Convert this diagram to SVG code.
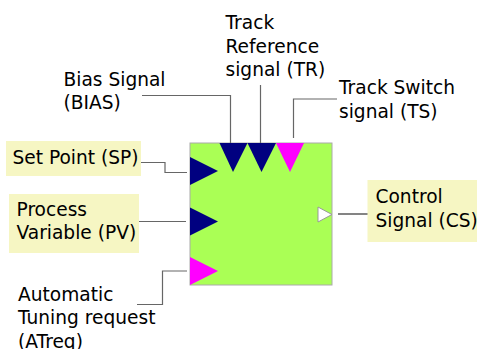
<svg xmlns="http://www.w3.org/2000/svg" width="477" height="349" viewBox="0 0 477 349">
<style>
text{font-family:"DejaVu Sans",sans-serif;font-size:18.6px;fill:#000}
.lbl{fill:#f6f6c3;stroke:none}
.c{fill:none;stroke:#666;stroke-width:1.2}
.navy{fill:#000080}
.mag{fill:#ff00ff}
</style>
<rect width="477" height="349" fill="#fff"/>
<g id="block">
<rect x="190" y="143" width="142" height="142" fill="#aaff55" stroke="#aaa" stroke-width="1"/>
<polygon class="navy" points="219.5,143 247.5,143 233,172"/>
<polygon class="navy" points="247.5,143 276,143 261.5,172"/>
<polygon class="mag" points="276,143 304,143 290,172"/>
<polygon class="navy" points="190,157 218,171 190,185"/>
<polygon class="navy" points="190,207.5 218,221.5 190,235.5"/>
<polygon class="mag" points="190,257 218,271 190,285"/>
<polygon points="318,207 332,214.5 318,222" fill="#fff" stroke="#999" stroke-width="1"/>
</g>
<g id="connectors">
<polyline class="c" points="142,95.5 230.5,95.5 230.5,143"/>
<polyline class="c" points="260.5,85 260.5,143"/>
<polyline class="c" points="337,99 293.5,99 293.5,138"/>
<polyline class="c" points="140,162.5 165,162.5 165,172.5 187,172.5"/>
<polyline class="c" points="139,221.5 186,221.5"/>
<polyline class="c" points="137,304.5 162.5,304.5 162.5,271 187,271"/>
<polyline class="c" points="338,214 368,214" style="stroke:#333"/>
</g>
<g id="bias"><text x="63.5" y="86">Bias Signal</text><text x="63.5" y="109.3">(BIAS)</text></g>
<g id="tr"><text x="225.5" y="29.3">Track</text><text x="225.5" y="52.6">Reference</text><text x="225.5" y="76">signal (TR)</text></g>
<g id="ts"><text x="339" y="94.3">Track Switch</text><text x="339" y="117.6">signal (TS)</text></g>
<g id="sp"><rect class="lbl" x="6" y="141" width="135" height="35"/><text x="12.5" y="164">Set Point (SP)</text></g>
<g id="pv"><rect class="lbl" x="9" y="194" width="130" height="59"/><text x="16.5" y="215.7">Process</text><text x="16.5" y="239">Variable (PV)</text></g>
<g id="atreq"><text x="18" y="301">Automatic</text><text x="18" y="324.3">Tuning request</text><text x="18" y="347.6">(ATreq)</text></g>
<g id="cs"><rect class="lbl" x="367.5" y="180" width="110" height="62"/><text x="375.5" y="203.3">Control</text><text x="375.5" y="226.6">Signal (CS)</text></g>
</svg>
